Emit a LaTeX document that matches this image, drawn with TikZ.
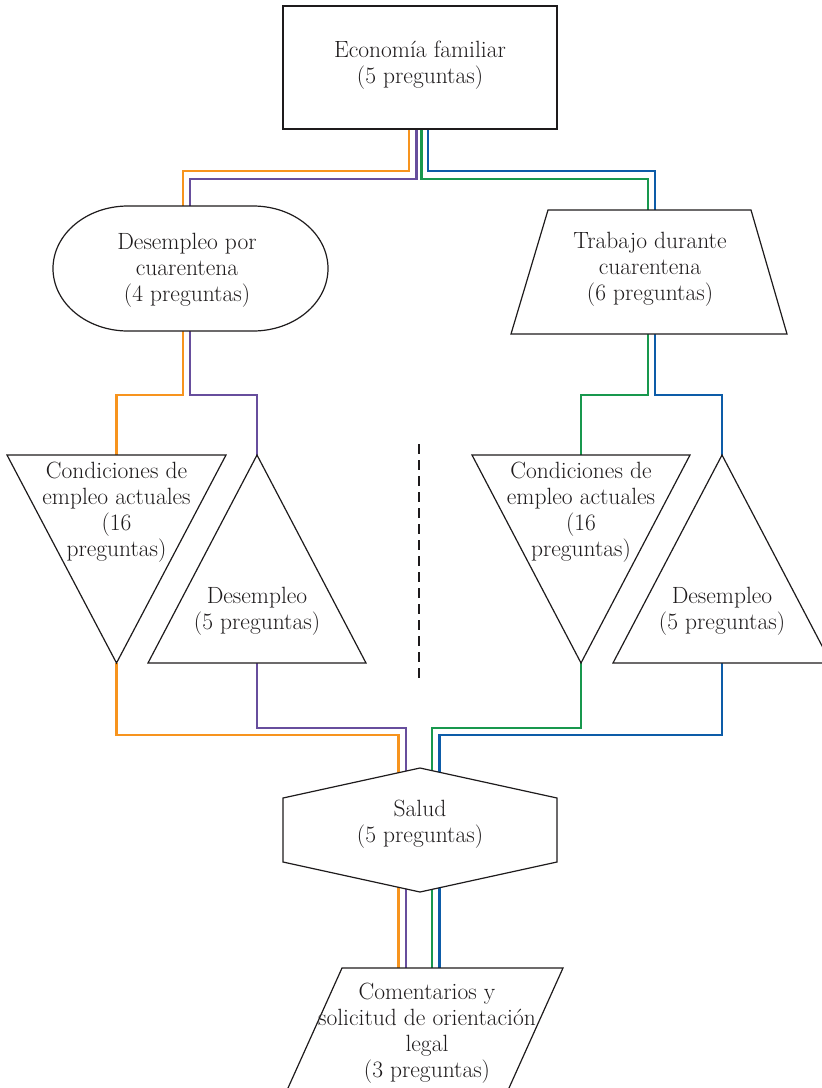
\documentclass[tikz,border=0pt]{standalone}
\usepackage{fontspec}
\usetikzlibrary{calc}
\definecolor{corange}{RGB}{247,148,30}
\definecolor{cpurple}{RGB}{103,78,157}
\definecolor{cgreen}{RGB}{24,152,78}
\definecolor{cblue}{RGB}{13,92,168}
\definecolor{ink}{RGB}{30,27,28}
\tikzset{
  bbx/.style={rectangle, inner sep=0pt, outer sep=0pt, draw=none},
  outline/.style={draw=ink, line width=1.2pt, fill=white, line join=miter},
  txt/.style={align=center, font=\fontsize{23.5}{26}\selectfont, inner sep=0pt, text=ink},
  link/.style={line width=2.2pt},
  dashline/.style={draw=ink, line width=2.4pt, dash pattern=on 10pt off 6pt}
}
\begin{document}
\begin{tikzpicture}[x=1pt,y=-1pt]
\useasboundingbox (0,0) rectangle (822,1088);
% shape boxes
\node[bbx, minimum width=274, minimum height=123] (eco) at (420,67.5) {};
\node[bbx, minimum width=275, minimum height=125] (des) at (190.5,268.5) {};
\node[bbx, minimum width=276, minimum height=124] (tra) at (649,272) {};
\node[bbx, minimum width=219, minimum height=208] (c1) at (116.5,559) {};
\node[bbx, minimum width=218, minimum height=208] (d1) at (257,559) {};
\node[bbx, minimum width=218, minimum height=208] (c2) at (581,559) {};
\node[bbx, minimum width=218, minimum height=208] (d2) at (722,559) {};
\node[bbx, minimum width=274, minimum height=124] (sal) at (420,830) {};
\node[bbx, minimum width=275, minimum height=120] (com) at (425.5,1028) {};
% connectors
\draw[link, corange] ([xshift=-11]eco.south) -- ++(0,42) -| ([xshift=-7.5]des.north);
\draw[link, cpurple] ([xshift=-3.5]eco.south) -- ++(0,50) -| ([xshift=-0.5]des.north);
\draw[link, cgreen] ([xshift=1.5]eco.south) -- ++(0,50) -| ([xshift=-1]tra.north);
\draw[link, cblue] ([xshift=8]eco.south) -- ++(0,42) -| ([xshift=6]tra.north);
\draw[link, corange] ([xshift=-7.5]des.south) -- ++(0,64) -| (c1.north);
\draw[link, cpurple] ([xshift=-0.5]des.south) -- ++(0,64) -| (d1.north);
\draw[link, cgreen] ([xshift=-1]tra.south) -- ++(0,61) -| (c2.north);
\draw[link, cblue] ([xshift=6]tra.south) -- ++(0,61) -| (d2.north);
\draw[link, corange] (c1.south) -- ++(0,72) -| ([xshift=-21.5]sal.north) -- ++(0,200);
\draw[link, cpurple] (d1.south) -- ++(0,65) -| ([xshift=-14]sal.north) -- ++(0,200);
\draw[link, cgreen] (c2.south) -- ++(0,65) -| ([xshift=12]sal.north) -- ++(0,200);
\draw[link, cblue] (d2.south) -- ++(0,72) -| ([xshift=19.5]sal.north) -- ++(0,200);
% outlines
\draw[outline] (eco.north west) rectangle (eco.south east);
\draw[outline] ($(des.north west)+(75,0)$) -- ($(des.north east)+(-75,0)$)
  arc[start angle=-90, end angle=90, x radius=75, y radius=62.5]
  -- ($(des.south west)+(75,0)$)
  arc[start angle=90, end angle=270, x radius=75, y radius=62.5] -- cycle;
\draw[outline] ($(tra.north west)+(37,0)$) -- ($(tra.north east)+(-36,0)$) -- (tra.south east) -- (tra.south west) -- cycle;
\draw[outline] (c1.north west) -- (c1.north east) -- (c1.south) -- cycle;
\draw[outline] (d1.north) -- (d1.south east) -- (d1.south west) -- cycle;
\draw[outline] (c2.north west) -- (c2.north east) -- (c2.south) -- cycle;
\draw[outline] (d2.north) -- (d2.south east) -- (d2.south west) -- cycle;
\draw[outline] (sal.north) -- ($(sal.north east)+(0,30)$) -- ($(sal.south east)+(0,-30)$) -- (sal.south)
  -- ($(sal.south west)+(0,-30)$) -- ($(sal.north west)+(0,30)$) -- cycle;
\draw[outline, fill=none] (com.south west) -- ($(com.north west)+(54,0)$) -- (com.north east) -- ($(com.south east)+(-54,0)$);
% separator
\coordinate (sepA) at (419,444);
\coordinate (sepB) at (419,678);
\draw[dashline] (sepA) -- (sepB);
% texts
\node[txt] (ecot) at ($(eco)+(0,-2.5)$) {Economía familiar\\(5 preguntas)};
\node[txt] (dest) at ($(des)+(-3.5,1.5)$) {Desempleo por\\cuarentena\\(4 preguntas)};
\node[txt] (trat) at ($(tra)+(1,-3)$) {Trabajo durante\\cuarentena\\(6 preguntas)};
\node[txt] (c1t) at ($(c1)+(0,-47)$) {Condiciones de\\empleo actuales\\(16\\preguntas)};
\node[txt] (d1t) at ($(d1)+(0,52.5)$) {Desempleo\\(5 preguntas)};
\node[txt] (c2t) at ($(c2)+(0,-47)$) {Condiciones de\\empleo actuales\\(16\\preguntas)};
\node[txt] (d2t) at ($(d2)+(0,52.5)$) {Desempleo\\(5 preguntas)};
\node[txt] (salt) at ($(sal)+(0,-5.5)$) {Salud\\(5 preguntas)};
\node[txt] (comt) at ($(com)+(1.5,5)$) {Comentarios y\\solicitud de orientación\\legal\\(3 preguntas)};
\end{tikzpicture}
\end{document}
